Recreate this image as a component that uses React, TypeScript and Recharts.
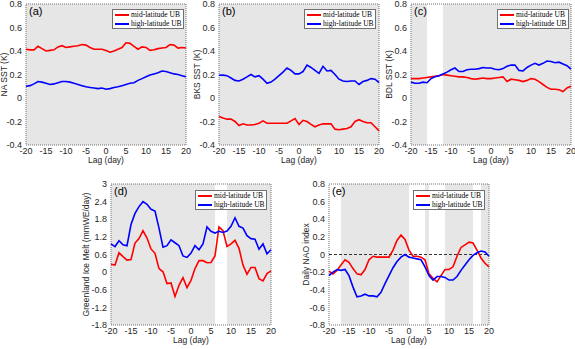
import React from 'react';
import { LineChart, Line, XAxis, YAxis, ReferenceArea, ReferenceLine, Legend } from 'recharts';

// lag axis shared by all panels
const lag = [-20, -19, -18, -17, -16, -15, -14, -13, -12, -11, -10, -9, -8, -7, -6, -5, -4, -3, -2, -1, 0,
  1, 2, 3, 4, 5, 6, 7, 8, 9, 10, 11, 12, 13, 14, 15, 16, 17, 18, 19, 20];
const lagTicks = [-20, -15, -10, -5, 0, 5, 10, 15, 20];

// (a) NA SST
const naMid = [0.415, 0.41, 0.41, 0.44, 0.42, 0.40, 0.405, 0.41, 0.435, 0.445, 0.43, 0.435, 0.44, 0.445, 0.455, 0.45, 0.43, 0.415, 0.415, 0.415,
  0.405, 0.39, 0.40, 0.415, 0.43, 0.47, 0.465, 0.44, 0.415, 0.435, 0.43, 0.405, 0.41, 0.42, 0.425, 0.43, 0.455, 0.45, 0.425, 0.43, 0.425];
const naHigh = [0.10, 0.105, 0.12, 0.14, 0.135, 0.125, 0.115, 0.12, 0.13, 0.14, 0.14, 0.135, 0.125, 0.115, 0.105, 0.095, 0.09, 0.085, 0.08, 0.085,
  0.075, 0.08, 0.09, 0.095, 0.105, 0.115, 0.125, 0.13, 0.15, 0.165, 0.18, 0.195, 0.205, 0.215, 0.23, 0.225, 0.215, 0.205, 0.2, 0.19, 0.18];

// (b) BKS SST
const bksMid = [-0.157, -0.17, -0.18, -0.18, -0.2, -0.234, -0.22, -0.23, -0.23, -0.225, -0.215, -0.195, -0.215, -0.215, -0.215, -0.215, -0.215, -0.215, -0.195, -0.175,
  -0.225, -0.19, -0.2, -0.225, -0.245, -0.23, -0.22, -0.22, -0.22, -0.265, -0.27, -0.265, -0.26, -0.245, -0.2, -0.185, -0.2, -0.21, -0.21, -0.245, -0.28];
const bksHigh = [0.193, 0.195, 0.19, 0.17, 0.15, 0.145, 0.16, 0.18, 0.2, 0.18, 0.19, 0.16, 0.125, 0.135, 0.16, 0.19, 0.22, 0.255, 0.235, 0.205,
  0.205, 0.225, 0.28, 0.26, 0.235, 0.21, 0.27, 0.23, 0.235, 0.2, 0.16, 0.145, 0.14, 0.145, 0.145, 0.115, 0.14, 0.15, 0.165, 0.16, 0.13];

// (c) BDL SST
const bdlMid = [0.165, 0.165, 0.165, 0.17, 0.175, 0.18, 0.185, 0.19, 0.2, 0.195, 0.19, 0.185, 0.18, 0.18, 0.175, 0.165, 0.16, 0.165, 0.17, 0.165,
  0.165, 0.17, 0.175, 0.18, 0.14, 0.16, 0.155, 0.15, 0.14, 0.15, 0.165, 0.16, 0.14, 0.115, 0.09, 0.075, 0.075, 0.07, 0.055, 0.085, 0.1];
const bdlHigh = [0.135, 0.125, 0.125, 0.135, 0.13, 0.165, 0.18, 0.19, 0.205, 0.22, 0.24, 0.255, 0.225, 0.225, 0.24, 0.245, 0.245, 0.25, 0.26, 0.255,
  0.255, 0.245, 0.24, 0.25, 0.27, 0.28, 0.28, 0.235, 0.23, 0.26, 0.28, 0.295, 0.28, 0.295, 0.315, 0.31, 0.3, 0.305, 0.29, 0.275, 0.245];

// (d) Greenland ice melt
const meltMid = [0.27, 0.24, 0.66, 0.53, 0.41, 0.43, 0.99, 1.14, 1.41, 1.16, 0.79, 0.64, 0.12, 0.01, -0.39, -0.37, -0.83, -0.45, -0.19, -0.53,
  -0.28, 0.12, 0.39, 0.39, 0.32, 0.33, 0.55, 1.54, 1.41, 0.87, 0.96, 1.08, 0.81, 0.24, -0.07, 0.16, 0.16, -0.22, -0.3, -0.05, 0.04];
const meltHigh = [0.96, 0.87, 1.07, 0.93, 0.9, 1.62, 2.0, 2.23, 2.4, 2.31, 2.14, 2.08, 1.5, 0.85, 0.9, 1.1, 1.0, 0.9, 0.55, 0.5,
  0.65, 0.9, 0.76, 0.96, 1.54, 1.39, 1.33, 1.39, 1.35, 1.4, 1.56, 1.85, 1.56, 1.5, 1.24, 1.14, 1.12, 0.78, 0.96, 0.62, 0.76];

// (e) daily NAO index
const naoMid = [-0.19, -0.22, -0.18, -0.12, -0.06, -0.09, -0.16, -0.22, -0.23, -0.17, -0.06, -0.02, -0.03, -0.03, -0.03, -0.03, 0.05, 0.16, 0.22, 0.17,
  0.05, -0.02, -0.02, -0.03, -0.06, -0.22, -0.27, -0.31, -0.24, -0.17, -0.17, -0.14, -0.02, 0.08, 0.11, 0.14, 0.13, 0.05, -0.04, -0.1, -0.14];
const naoHigh = [-0.24, -0.2, -0.17, -0.18, -0.17, -0.24, -0.37, -0.48, -0.47, -0.45, -0.47, -0.47, -0.48, -0.43, -0.33, -0.24, -0.15, -0.08, -0.03, 0.0,
  -0.03, -0.04, -0.05, -0.06, -0.14, -0.24, -0.29, -0.25, -0.25, -0.26, -0.29, -0.29, -0.25, -0.18, -0.12, -0.06, -0.01, 0.02, 0.04, 0.03, -0.02];

const sstTicks = [-0.4, -0.2, 0, 0.2, 0.4, 0.6, 0.8];
const meltTicks = [-1.8, -1.2, -0.6, 0, 0.6, 1.2, 1.8, 2.4, 3];
const naoTicks = [-0.8, -0.6, -0.4, -0.2, 0, 0.2, 0.4, 0.6, 0.8];

// shaded (significant) lag ranges
const fullShade: [number, number][] = [[-20, 20]];
const bdlShade: [number, number][] = [[-20, -16], [-12, 20]];
const meltShade: [number, number][] = [[-20, 6], [9, 20]];
const naoShade: [number, number][] = [[-17, 0], [4, 5], [9, 16], [18, 20]];

const seriesNames = ['mid-latitude UB', 'high-latitude UB'];
const RED = '#ff0000';
const BLUE = '#0000ff';

const PLOT_W = 160;
const PLOT_H = 141;
const AX_L = 34;
const AX_B = 26;
const PAD_T = 8;
const PAD_R = 6;
const FONT = '"Liberation Sans", Arial, sans-serif';
const TXT = '#262626';

type PanelProps = {
  left: number;
  top: number;
  tag: string;
  yLabel: string;
  yLabelDx: number;
  yDomain: [number, number];
  yTicks: number[];
  mid: number[];
  high: number[];
  shades: [number, number][];
  legendLeft: number;
  legendTop: number;
  zeroLine?: boolean;
};

const LegendBox = () => (
  <div style={{
    width: 72, height: 20, boxSizing: 'border-box', border: '1px solid #707070', background: '#fff',
    fontFamily: '"Liberation Serif", "Times New Roman", serif', fontSize: 7.5, color: '#000', padding: '1px 2px',
  }}>
    {seriesNames.map((n, i) => (
      <div key={n} style={{ display: 'flex', alignItems: 'center', height: 8.5, lineHeight: '8px', whiteSpace: 'nowrap' }}>
        <span style={{ display: 'inline-block', flex: 'none', width: 14, height: 2, background: i === 0 ? RED : BLUE, marginRight: 2 }} />
        {n}
      </div>
    ))}
  </div>
);

function Panel(p: PanelProps) {
  const data = lag.map((d, i) => ({ lag: d, mid: p.mid[i], high: p.high[i] }));
  const ox = p.left - AX_L;
  const oy = p.top - PAD_T;

  const yTitle = (props: any) => {
    const vb = props.viewBox;
    const x = vb.x + vb.width + p.yLabelDx;
    const y = vb.y + vb.height / 2;
    return (
      <text x={x} y={y} transform={`rotate(-90, ${x}, ${y})`} textAnchor="middle" dominantBaseline="central"
        fontSize={8.5} fill={TXT}>{p.yLabel}</text>
    );
  };
  const xTitle = (props: any) => {
    const vb = props.viewBox;
    return (
      <text x={vb.x + vb.width / 2} y={vb.y + 15} textAnchor="middle" dominantBaseline="central"
        fontSize={8.5} fill={TXT}>Lag (day)</text>
    );
  };

  return (
    <div style={{ position: 'absolute', left: ox, top: oy }}>
      <LineChart width={PLOT_W + AX_L + PAD_R} height={PLOT_H + PAD_T + AX_B} data={data}
        margin={{ top: PAD_T, right: PAD_R, bottom: 0, left: 0 }} style={{ fontFamily: FONT }}>
        <XAxis dataKey="lag" type="number" domain={[-20, 20]} ticks={lagTicks} interval={0} height={AX_B}
          axisLine={false} tickLine={false} tickSize={0} tickMargin={3}
          tick={{ fontSize: 9, fill: TXT }} label={xTitle} />
        <YAxis type="number" domain={p.yDomain} ticks={p.yTicks} interval={0} width={AX_L}
          axisLine={false} tickLine={false} tickSize={0} tickMargin={4}
          tick={{ fontSize: 9, fill: TXT }} label={yTitle} />
        {p.shades.map(([a, b]) => (
          <ReferenceArea key={`s${a}`} x1={a} x2={b} y1={p.yDomain[0]} y2={p.yDomain[1]}
            fill="#e6e6e6" fillOpacity={1} stroke="none" />
        ))}
        {p.zeroLine && <ReferenceLine y={0} stroke="#333" strokeDasharray="3 2" strokeWidth={1} />}
        <ReferenceArea x1={-20} x2={20} y1={p.yDomain[0]} y2={p.yDomain[1]} fill="none"
          stroke="#707070" strokeDasharray="1 1" strokeWidth={1}
          label={{ value: p.tag, position: 'insideTopLeft', offset: 3, fontSize: 11, fill: '#000' }} />
        <Line type="linear" dataKey="mid" name={seriesNames[0]} stroke={RED} strokeWidth={1.6} dot={false} isAnimationActive={false} />
        <Line type="linear" dataKey="high" name={seriesNames[1]} stroke={BLUE} strokeWidth={1.6} dot={false} isAnimationActive={false} />
        <Legend layout="horizontal" verticalAlign="middle" align="center" content={() => <LegendBox />}
          wrapperStyle={{ left: p.legendLeft - ox, top: p.legendTop - oy, width: 'auto', height: 'auto' }} />
      </LineChart>
    </div>
  );
}

export default function App() {
  return (
    <div style={{ position: 'absolute', left: 0, top: 0, width: 575, height: 349, background: '#fff', overflow: 'hidden' }}>
      <Panel left={26} top={4} tag="(a)" yLabel="NA SST (K)" yLabelDx={-22} yDomain={[-0.4, 0.8]} yTicks={sstTicks}
        mid={naMid} high={naHigh} shades={fullShade} legendLeft={112} legendTop={9} />
      <Panel left={219} top={4} tag="(b)" yLabel="BKS SST (K)" yLabelDx={-22} yDomain={[-0.4, 0.8]} yTicks={sstTicks}
        mid={bksMid} high={bksHigh} shades={fullShade} legendLeft={304} legendTop={9} />
      <Panel left={411} top={4} tag="(c)" yLabel="BDL SST (K)" yLabelDx={-22} yDomain={[-0.4, 0.8]} yTicks={sstTicks}
        mid={bdlMid} high={bdlHigh} shades={bdlShade} legendLeft={497} legendTop={9} />
      <Panel left={111} top={184} tag="(d)" yLabel="Greenland Ice Melt (mmWE/day)" yLabelDx={-25} yDomain={[-1.8, 3]} yTicks={meltTicks}
        mid={meltMid} high={meltHigh} shades={meltShade} legendLeft={195} legendTop={190} />
      <Panel left={329} top={184} tag="(e)" yLabel="Daily NAO index" yLabelDx={-23} yDomain={[-0.8, 0.8]} yTicks={naoTicks}
        mid={naoMid} high={naoHigh} shades={naoShade} legendLeft={413} legendTop={190} zeroLine />
    </div>
  );
}
